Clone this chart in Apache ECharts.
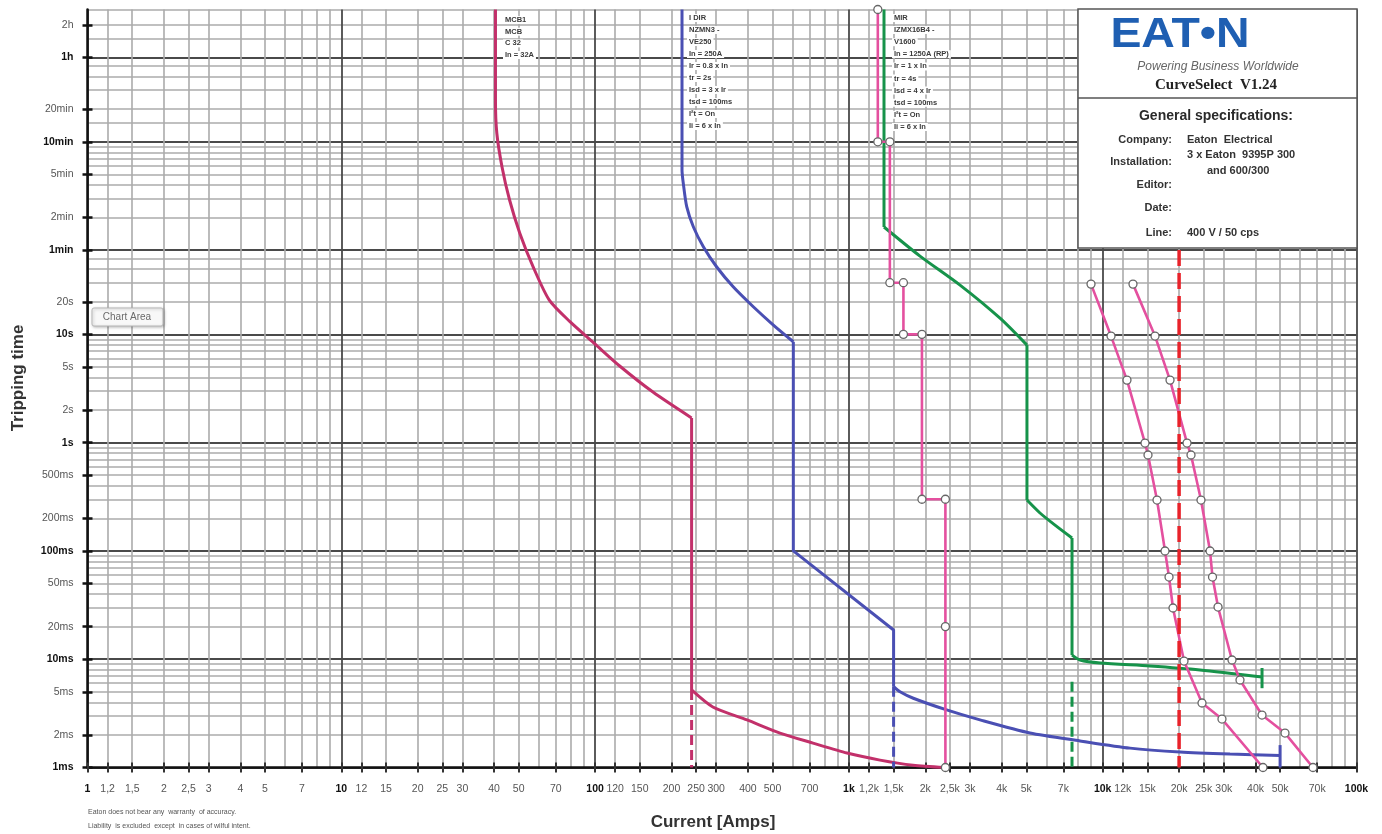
<!DOCTYPE html>
<html>
<head>
<meta charset="utf-8">
<title>CurveSelect – tripping curves</title>
<script src="https://cdn.jsdelivr.net/npm/echarts@6/dist/echarts.min.js"></script>
<style>
  html, body { margin: 0; padding: 0; background: #fff; }
  #chart { width: 1382px; height: 834px; }
</style>
</head>
<body>
<div id="chart"></div>
<script>
// ---- axis ticks ----------------------------------------------------------
const xTickValues = [1, 1.2, 1.5, 2, 2.5, 3, 4, 5, 7, 10, 12, 15, 20, 25, 30, 40, 50, 70,
  100, 120, 150, 200, 250, 300, 400, 500, 700, 1000, 1200, 1500, 2000, 2500, 3000, 4000, 5000, 7000,
  10000, 12000, 15000, 20000, 25000, 30000, 40000, 50000, 70000, 100000];
const xTickLabels = ['1', '1,2', '1,5', '2', '2,5', '3', '4', '5', '7', '10', '12', '15', '20', '25', '30', '40', '50', '70',
  '100', '120', '150', '200', '250', '300', '400', '500', '700', '1k', '1,2k', '1,5k', '2k', '2,5k', '3k', '4k', '5k', '7k',
  '10k', '12k', '15k', '20k', '25k', '30k', '40k', '50k', '70k', '100k'];
const xBoldLabels = ['1', '10', '100', '1k', '10k', '100k'];

const yTickValues = [0.001, 0.002, 0.005, 0.01, 0.02, 0.05, 0.1, 0.2, 0.5, 1, 2, 5, 10, 20, 60, 120, 300, 600, 1200, 3600, 7200];
const yTickLabels = ['1ms', '2ms', '5ms', '10ms', '20ms', '50ms', '100ms', '200ms', '500ms', '1s', '2s', '5s', '10s', '20s',
  '1min', '2min', '5min', '10min', '20min', '1h', '2h'];
const yBoldLabels = ['1ms', '10ms', '100ms', '1s', '10s', '1min', '10min', '1h'];

// ---- grid lines ----------------------------------------------------------
const xDecades = [1, 10, 100, 1000, 10000];
const xGridMantissas = [1.2, 1.5, 2, 2.5, 3, 4, 5, 6, 7, 8, 9];
const xMajorGrid = [1, 10, 100, 1000, 10000, 100000];
const yDecades = [0.001, 0.01, 0.1, 1];
const yGridMantissas = [2, 3, 4, 5, 6, 7, 8, 9];
const yTimeGrid = [20, 30, 40, 50, 120, 180, 240, 300, 360, 420, 480, 540, 900, 1200, 1800, 2400, 3000, 5400, 7200, 10000];
const yMajorGrid = [0.001, 0.01, 0.1, 1, 10, 60, 600, 3600];

// ---- curves: [current A, time s] -----------------------------------------
// MCB C32
const mcbThermal = [[40.5, 10000], [40.5, 1450], [41, 720], [43, 350], [46, 175], [50.5, 86], [57, 42], [66, 20.7],
  [79.6, 13.1], [100, 8.13], [125, 5.1], [169, 2.93], [240, 1.69]];
const mcbMagnetic = [[240, 1.69], [240, 0.0052]];
const mcbTail = [[240, 0.0052], [291, 0.00362], [397, 0.00275], [535, 0.00208], [722, 0.00168], [983, 0.00136],
  [1326, 0.00117], [1789, 0.00105], [2390, 0.001]];
const mcbDashed = [[240, 0.0052], [240, 0.001]];

// NZMN3-VE250
const nzmLongTime = [[220, 10000], [220, 330], [222.6, 248], [229.6, 151], [243.8, 98.6], [267, 64.4], [301, 42.1],
  [350, 27.5], [420, 18], [504, 12.2], [604, 8.55]];
const nzmShortTime = [[604, 8.55], [604, 0.1], [1500, 0.0186], [1500, 0.00557]];
const nzmTail = [[1500, 0.00557], [1590, 0.00501], [1794, 0.00436], [2428, 0.0034], [3285, 0.00275], [5171, 0.00208],
  [8140, 0.00176], [12810, 0.00151], [20170, 0.00139], [31740, 0.00133], [50000, 0.00129]];
const nzmCap = [[50000, 0.00161], [50000, 0.001]];
const nzmDashed = [[1500, 0.00557], [1500, 0.001]];

// IZMX16B4-V1600
const izmVertical = [[1375, 10000], [1375, 98]];
const izmLongTime = [[1375, 98], [1906, 52.8], [2741, 28.5], [3939, 14.1], [5030, 7.96]];
const izmStep = [[5030, 7.96], [5030, 0.295]];
const izmShortTime = [[5030, 0.295], [5662, 0.224], [6489, 0.173], [7570, 0.1316]];
const izmInstant = [[7570, 0.1316], [7570, 0.0109]];
const izmTail = [[7570, 0.0109], [8140, 0.00983], [9759, 0.00922], [15360, 0.00865], [24180, 0.00795], [42440, 0.00685]];
const izmCap = [[42440, 0.0083], [42440, 0.0054]];
const izmDashed = [[7570, 0.0062], [7570, 0.001]];

// stepped characteristic with setting points
const stepCurve = [[1300, 10000], [1300, 600], [1450, 600], [1450, 30], [1640, 30], [1640, 10], [1940, 10],
  [1940, 0.3], [2400, 0.3], [2400, 0.02], [2400, 0.001]];

// fuse characteristics
const fuseA = [[8994, 29.1], [10785, 9.64], [12464, 3.78], [14678, 0.991], [15083, 0.769], [16368, 0.295],
  [17600, 0.0998], [18252, 0.0574], [18923, 0.0297], [20910, 0.00962], [24620, 0.00394], [29510, 0.0028],
  [42810, 0.001]];
const fuseB = [[13163, 29.1], [16075, 9.64], [18418, 3.78], [21490, 0.991], [22280, 0.769], [24393, 0.295],
  [26480, 0.0998], [27080, 0.0574], [28470, 0.0303], [32320, 0.00983], [34750, 0.00643], [42430, 0.00305],
  [52270, 0.00208], [67390, 0.001]];

// short-circuit current marker
const shortCircuit = [[20000, 60], [20000, 0.001]];

// ---- device annotations --------------------------------------------------
const mcbText = ['MCB1', 'MCB', 'C 32', 'In = 32A'];
const nzmText = ['I DIR', 'NZMN3 -', 'VE250', 'In = 250A', 'Ir = 0.8 x In', 'tr = 2s', 'Isd = 3 x Ir', 'tsd = 100ms', 'I²t = On', 'Ii = 6 x In'];
const izmText = ['MIR', 'IZMX16B4 -', 'V1600', 'In = 1250A (RP)', 'Ir = 1 x In', 'tr = 4s', 'Isd = 4 x Ir', 'tsd = 100ms', 'I²t = On', 'Ii = 6 x In'];

const specLabels = ['Company:', 'Installation:', 'Editor:', 'Date:', 'Line:'];

// ---- colours -------------------------------------------------------------
const C_MCB = '#c2306a';
const C_NZM = '#4a4fb3';
const C_IZM = '#16934a';
const C_PINK = '#e4509f';
const C_RED = '#e8222a';

function pickLabel(values, labels, bold, v) {
  let best = 0, bd = Infinity;
  values.forEach((tv, i) => {
    const d = Math.abs(Math.log10(tv) - Math.log10(v));
    if (d < bd) { bd = d; best = i; }
  });
  const t = labels[best];
  return bold.indexOf(t) >= 0 ? '{b|' + t + '}' : t;
}

function expand(decades, mantissas) {
  const out = [];
  decades.forEach(d => mantissas.forEach(m => out.push(+(d * m).toPrecision(6))));
  return out;
}
const xMinorGrid = expand(xDecades, xGridMantissas);
const yMinorGrid = expand(yDecades, yGridMantissas).concat(yTimeGrid);

const baseX = { type: 'log', logBase: 10, min: 1, max: 100000, position: 'bottom', gridIndex: 0 };
const baseY = { type: 'log', logBase: 10, min: 0.001, max: 10000, position: 'left', gridIndex: 0 };

const hidden = { axisLine: { show: false }, axisLabel: { show: false } };
const MINOR = { color: '#ababab', width: 1.6 };
const MAJOR = { color: '#4a4a4a', width: 1.8 };

const xAxis = [
  Object.assign({}, baseX, {
    axisLine: { show: true, lineStyle: { color: '#111', width: 2.5 } },
    axisTick: { show: true, customValues: xTickValues, length: 5, lineStyle: { color: '#333', width: 2 } },
    axisLabel: {
      customValues: xTickValues, margin: 16, fontSize: 10.5, color: '#555', fontFamily: 'Liberation Sans',
      formatter: v => pickLabel(xTickValues, xTickLabels, xBoldLabels, v),
      rich: { b: { fontWeight: 'bold', color: '#111', fontSize: 10.5, fontFamily: 'Liberation Sans' } }
    },
    splitLine: { show: false }
  }),
  Object.assign({}, baseX, hidden, {
    axisTick: { show: false, customValues: xMinorGrid },
    splitLine: { show: true, lineStyle: MINOR }
  }),
  Object.assign({}, baseX, hidden, {
    axisTick: { show: false, customValues: xMajorGrid },
    splitLine: { show: true, lineStyle: MAJOR }
  }),
  Object.assign({}, baseX, hidden, {
    axisTick: { show: true, inside: true, customValues: xTickValues, length: 5, lineStyle: { color: '#333', width: 2 } },
    splitLine: { show: false }
  })
];

const yAxis = [
  Object.assign({}, baseY, {
    axisLine: { show: true, lineStyle: { color: '#111', width: 2.5 } },
    axisTick: { show: true, customValues: yTickValues, length: 5, lineStyle: { color: '#111', width: 2.5 } },
    axisLabel: {
      customValues: yTickValues, margin: 14, fontSize: 10.5, color: '#555', fontFamily: 'Liberation Sans',
      formatter: v => pickLabel(yTickValues, yTickLabels, yBoldLabels, v),
      rich: { b: { fontWeight: 'bold', color: '#111', fontSize: 10.5, fontFamily: 'Liberation Sans' } }
    },
    splitLine: { show: false }
  }),
  Object.assign({}, baseY, hidden, {
    axisTick: { show: false, customValues: yMinorGrid },
    splitLine: { show: true, lineStyle: MINOR }
  }),
  Object.assign({}, baseY, hidden, {
    axisTick: { show: false, customValues: yMajorGrid },
    splitLine: { show: true, lineStyle: MAJOR }
  }),
  Object.assign({}, baseY, hidden, {
    axisTick: { show: true, inside: true, customValues: yTickValues, length: 5, lineStyle: { color: '#111', width: 2.5 } },
    splitLine: { show: false }
  })
];

function line(name, data, color, extra) {
  return Object.assign({
    type: 'line', name: name, data: data, xAxisIndex: 0, yAxisIndex: 0,
    symbol: 'none', smooth: false, animation: false, silent: true, z: 3,
    lineStyle: { color: color, width: 3 }, itemStyle: { color: color }
  }, extra || {});
}
const SMOOTH = { smooth: 0.25 };
const dashed = c => ({ lineStyle: { color: c, width: 3, type: [10, 5] } });

const markerStyle = {
  symbol: 'circle', symbolSize: 8, showAllSymbol: true,
  itemStyle: { color: '#fff', borderColor: '#666', borderWidth: 1.3 },
  lineStyle: { color: C_PINK, width: 2.6 }, z: 4
};

const series = [
  line('MCB C32', mcbThermal, C_MCB, SMOOTH),
  line('MCB C32', mcbMagnetic, C_MCB),
  line('MCB C32', mcbTail, C_MCB, SMOOTH),
  line('MCB C32', mcbDashed, C_MCB, dashed(C_MCB)),
  line('NZMN3-VE250', nzmLongTime, C_NZM, SMOOTH),
  line('NZMN3-VE250', nzmShortTime, C_NZM),
  line('NZMN3-VE250', nzmTail, C_NZM, SMOOTH),
  line('NZMN3-VE250', nzmCap, C_NZM),
  line('NZMN3-VE250', nzmDashed, C_NZM, dashed(C_NZM)),
  line('IZMX16B4-V1600', izmVertical, C_IZM),
  line('IZMX16B4-V1600', izmLongTime, C_IZM, SMOOTH),
  line('IZMX16B4-V1600', izmStep, C_IZM),
  line('IZMX16B4-V1600', izmShortTime, C_IZM, SMOOTH),
  line('IZMX16B4-V1600', izmInstant, C_IZM),
  line('IZMX16B4-V1600', izmTail, C_IZM, SMOOTH),
  line('IZMX16B4-V1600', izmCap, C_IZM),
  line('IZMX16B4-V1600', izmDashed, C_IZM, dashed(C_IZM)),
  line('Stepped', stepCurve, C_PINK, markerStyle),
  line('Fuse A', fuseA, C_PINK, markerStyle),
  line('Fuse B', fuseB, C_PINK, markerStyle),
  line('Ik', shortCircuit, C_RED, { z: 5, lineStyle: { color: C_RED, width: 3.5, type: [16, 7] } })
];

// ---- annotation graphics -------------------------------------------------
const graphics = [];

function textBlock(lines, x, y0, step) {
  lines.forEach((t, i) => {
    graphics.push({
      type: 'text', x: x, y: y0 + i * step, z: 50,
      style: {
        text: t, font: 'bold 7.5px "Liberation Sans"', fill: '#3a3a3a',
        backgroundColor: '#fff', padding: [0, 2], verticalAlign: 'middle', align: 'left'
      }
    });
  });
}
textBlock(mcbText, 503, 20, 11.7);
textBlock(nzmText, 687, 18, 12);
textBlock(izmText, 892, 18, 12.1);

// Excel-style hover hint
graphics.push({
  type: 'rect', z: 60, shape: { x: 92, y: 308, width: 71, height: 18, r: 2 },
  style: { fill: '#f8f8f8', stroke: '#b8b8b8', lineWidth: 1, shadowBlur: 3, shadowColor: 'rgba(0,0,0,0.25)', shadowOffsetX: 1, shadowOffsetY: 1 }
});
graphics.push({
  type: 'text', z: 61, x: 127, y: 317,
  style: { text: 'Chart Area', font: '10px "Liberation Sans"', fill: '#6a6a6a', align: 'center', verticalAlign: 'middle' }
});

// Logo & specification box
graphics.push({
  type: 'rect', z: 70, shape: { x: 1078, y: 9, width: 279, height: 239 },
  style: { fill: '#fff', stroke: '#555', lineWidth: 1.5 }
});
graphics.push({
  type: 'line', z: 71, shape: { x1: 1078, y1: 98, x2: 1357, y2: 98 },
  style: { stroke: '#555', lineWidth: 1.5 }
});
graphics.push({
  type: 'text', z: 72, x: 1180, y: 35, scaleX: 1.08,
  style: { text: 'EAT•N', font: 'bold 43px "Liberation Sans"', fill: '#1f5fb2', align: 'center', verticalAlign: 'middle' }
});
graphics.push({
  type: 'text', z: 72, x: 1218, y: 67,
  style: { text: 'Powering Business Worldwide', font: 'italic 12px "Liberation Sans"', fill: '#666', align: 'center', verticalAlign: 'middle' }
});
graphics.push({
  type: 'text', z: 72, x: 1216, y: 85,
  style: { text: 'CurveSelect  V1.24', font: 'bold 15px "Liberation Serif"', fill: '#222', align: 'center', verticalAlign: 'middle' }
});
graphics.push({
  type: 'text', z: 72, x: 1216, y: 116,
  style: { text: 'General specifications:', font: 'bold 14px "Liberation Sans"', fill: '#2a2a2a', align: 'center', verticalAlign: 'middle' }
});
const specY = [140, 162, 185, 208, 233];
specLabels.forEach((t, i) => {
  graphics.push({
    type: 'text', z: 72, x: 1172, y: specY[i],
    style: { text: t, font: 'bold 11px "Liberation Sans"', fill: '#333', align: 'right', verticalAlign: 'middle' }
  });
});
[['Eaton  Electrical', 1187, 140], ['3 x Eaton  9395P 300', 1187, 155], ['and 600/300', 1207, 171], ['400 V / 50 cps', 1187, 233]]
  .forEach(r => {
    graphics.push({
      type: 'text', z: 72, x: r[1], y: r[2],
      style: { text: r[0], font: 'bold 11px "Liberation Sans"', fill: '#333', align: 'left', verticalAlign: 'middle' }
    });
  });

// Axis titles
graphics.push({
  type: 'text', z: 72, x: 18, y: 378, rotation: Math.PI / 2,
  style: { text: 'Tripping time', font: 'bold 17px "Liberation Sans"', fill: '#333', align: 'center', verticalAlign: 'middle' }
});
graphics.push({
  type: 'text', z: 72, x: 713, y: 822,
  style: { text: 'Current [Amps]', font: 'bold 17px "Liberation Sans"', fill: '#333', align: 'center', verticalAlign: 'middle' }
});

// Disclaimer
graphics.push({
  type: 'text', z: 72, x: 88, y: 812,
  style: { text: 'Eaton does not bear any  warranty  of accuracy.', font: '7px "Liberation Sans"', fill: '#555', align: 'left', verticalAlign: 'middle' }
});
graphics.push({
  type: 'text', z: 72, x: 88, y: 826,
  style: { text: 'Liability  is excluded  except  in cases of wilful intent.', font: '7px "Liberation Sans"', fill: '#555', align: 'left', verticalAlign: 'middle' }
});

const chart = echarts.init(document.getElementById('chart'), null, { renderer: 'canvas' });
chart.setOption({
  animation: false,
  backgroundColor: '#fff',
  grid: { left: 87.5, right: 25.5, top: 9.5, bottom: 66.5, containLabel: false, outerBoundsMode: 'none' },
  xAxis: xAxis,
  yAxis: yAxis,
  series: series,
  graphic: { elements: graphics }
});
</script>
</body>
</html>
